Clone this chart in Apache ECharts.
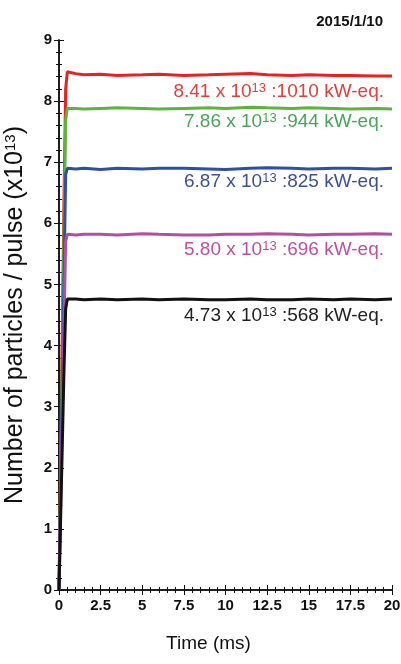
<!DOCTYPE html>
<html>
<head>
<meta charset="utf-8">
<script src="https://cdn.jsdelivr.net/npm/echarts@6/dist/echarts.min.js"></script>
<style>
  html, body { margin: 0; padding: 0; background: #fff; }
  #chart-container { width: 401px; height: 664px; }
</style>
</head>
<body>
<div id="chart-container"></div>
<script>
// time axis in ms (shared by all pulses)
const times = [0, 0.1, 0.2, 0.3, 0.4, 0.5, 1, 1.5, 2.5, 3.5, 5, 6, 7.5, 9, 10, 11.5, 12.5, 14, 15, 16.5, 17.5, 19, 20];

// particles per pulse (x10^13)
const redVals     = [0, 2.1, 4.3, 6.4, 8.2, 8.48, 8.45, 8.43, 8.44, 8.42, 8.43, 8.44, 8.42, 8.43, 8.44, 8.45, 8.43, 8.42, 8.43, 8.42, 8.42, 8.41, 8.41];
const greenVals   = [0, 1.9, 3.9, 5.9, 7.7, 7.88, 7.88, 7.87, 7.88, 7.89, 7.88, 7.87, 7.88, 7.89, 7.88, 7.9, 7.89, 7.88, 7.89, 7.88, 7.87, 7.88, 7.87];
const blueVals    = [0, 1.7, 3.4, 5.1, 6.8, 6.9, 6.89, 6.9, 6.88, 6.9, 6.89, 6.9, 6.9, 6.89, 6.88, 6.9, 6.91, 6.9, 6.89, 6.9, 6.9, 6.89, 6.9];
const magentaVals = [0, 1.4, 2.9, 4.3, 5.7, 5.82, 5.81, 5.82, 5.82, 5.81, 5.83, 5.82, 5.81, 5.81, 5.82, 5.82, 5.83, 5.82, 5.81, 5.82, 5.82, 5.83, 5.82];
const blackVals   = [0, 1.2, 2.4, 3.6, 4.6, 4.76, 4.76, 4.75, 4.76, 4.75, 4.76, 4.75, 4.76, 4.75, 4.75, 4.76, 4.75, 4.75, 4.76, 4.75, 4.76, 4.75, 4.76];

// annotation text
const labelCoef  = ['8.41', '7.86', '6.87', '5.80', '4.73'];
const labelPower = ['1010', '944', '825', '696', '568'];

const lineColors  = ['#e8231f', '#5db43c', '#2f4fa0', '#b04fa6', '#111111'];
const labelColors = ['#e0403a', '#47a65a', '#3d4f9a', '#c04fa0', '#222222'];
const labelTops   = [82, 112, 172, 240, 306];

const FONT = '"Liberation Sans", Arial, sans-serif';

const chartContainer = document.getElementById('chart-container');
const myChart = echarts.init(chartContainer);

const allVals = [redVals, greenVals, blueVals, magentaVals, blackVals];

const seriesList = allVals.map((vals, i) => ({
  type: 'line',
  showSymbol: false,
  lineStyle: { color: lineColors[i], width: 3 },
  z: 2 + i,
  data: times.map((t, k) => [t, vals[k]])
}));

const labelGraphics = labelCoef.map((c, i) => ({
  type: 'text',
  right: 17,
  top: labelTops[i],
  style: {
    text: c + ' x 10{sup|13} :' + labelPower[i] + ' kW-eq.',
    fill: labelColors[i],
    font: '19px ' + FONT,
    rich: {
      sup: { fontSize: 13, verticalAlign: 'top', fill: labelColors[i], fontFamily: FONT, padding: [0, 0, 7, 0] }
    }
  }
}));

const tickFont = { fontFamily: FONT, fontWeight: 'bold', fontSize: 15, color: '#111' };
const axisLine = { show: true, lineStyle: { color: '#111', width: 1.5 } };

const options = {
  backgroundColor: '#fff',
  animation: false,
  title: {
    text: '2015/1/10',
    right: 13,
    top: 9,
    textStyle: { fontFamily: FONT, fontWeight: 'bold', fontSize: 15, color: '#111' }
  },
  grid: { left: 59, right: 9, top: 40, bottom: 74, outerBoundsMode: 'none', containLabel: false },
  xAxis: [{
    type: 'value',
    min: 0, max: 20, interval: 2.5,
    name: 'Time (ms)',
    nameLocation: 'middle',
    nameGap: 44,
    nameTextStyle: { fontFamily: FONT, fontSize: 19, color: '#111', padding: [0, 34, 0, 0] },
    axisLine: axisLine,
    axisTick: { inside: true, length: 5, lineStyle: { color: '#111' } },
    minorTick: { show: true, splitNumber: 5, length: 3, lineStyle: { color: '#111' } },
    splitLine: { show: false },
    axisLabel: Object.assign({ margin: 8 }, tickFont)
  }, {
    type: 'value',
    position: 'top',
    min: 0, max: 20, interval: 2.5,
    axisLine: axisLine,
    axisTick: { inside: true, length: 5, lineStyle: { color: '#111' } },
    minorTick: { show: true, splitNumber: 5, length: 3, lineStyle: { color: '#111' } },
    splitLine: { show: false },
    axisLabel: { show: false }
  }],
  yAxis: [{
    type: 'value',
    min: 0, max: 9, interval: 1,
    name: 'Number of particles / pulse (x10{sup|13})',
    nameLocation: 'middle',
    nameGap: 31,
    nameTextStyle: {
      fontFamily: FONT, fontSize: 25, color: '#111',
      rich: { sup: { fontSize: 15, fontFamily: FONT, color: '#111', verticalAlign: 'top', padding: [0, 0, 9, 0] } }
    },
    axisLine: axisLine,
    axisTick: { inside: true, length: 5, lineStyle: { color: '#111' } },
    minorTick: { show: true, splitNumber: 5, length: 3, lineStyle: { color: '#111' } },
    splitLine: { show: false },
    axisLabel: Object.assign({ margin: 7 }, tickFont)
  }, {
    type: 'value',
    position: 'right',
    min: 0, max: 9, interval: 1,
    axisLine: axisLine,
    axisTick: { inside: true, length: 5, lineStyle: { color: '#111' } },
    minorTick: { show: true, splitNumber: 5, length: 3, lineStyle: { color: '#111' } },
    splitLine: { show: false },
    axisLabel: { show: false }
  }],
  graphic: labelGraphics,
  series: seriesList
};

myChart.setOption(options);

window.addEventListener('resize', function () {
  myChart.resize();
});
</script>
</body>
</html>
